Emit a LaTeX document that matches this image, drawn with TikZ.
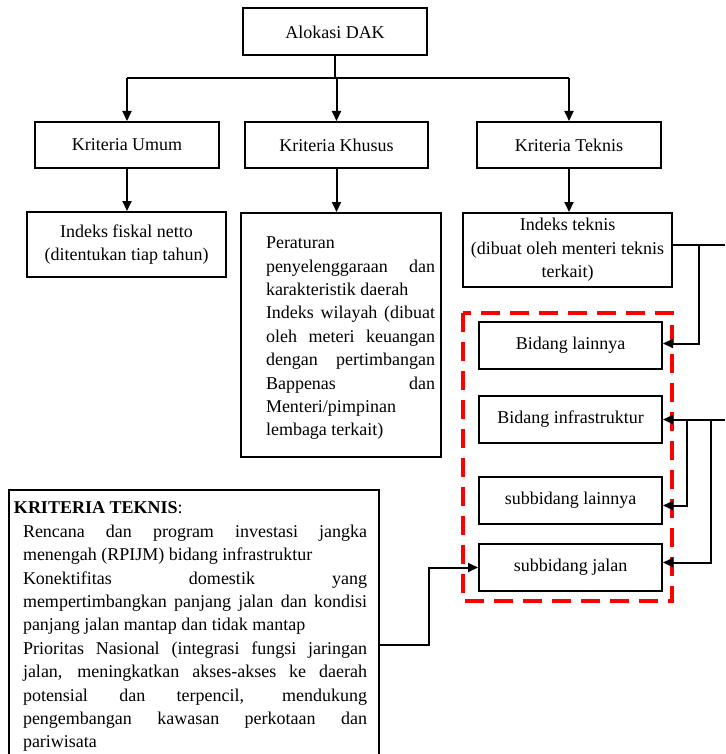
\documentclass[tikz,border=0pt]{standalone}
\usepackage{fontspec}
\setmainfont{Liberation Serif}
\usetikzlibrary{arrows.meta}
% a line stretched to a given width (justified line)
\newcommand\fullline[2]{\makebox[#1][s]{#2}}
\begin{document}
\begin{tikzpicture}[x=1pt,y=-1pt,
  box/.style={draw,line width=2pt,inner sep=0pt,
    font=\fontsize{18}{23.4}\selectfont},
  ln/.style={line width=2pt},
  arr/.style={line width=2pt,-{Triangle[length=10pt,width=9pt]}},
]
\useasboundingbox (0,0) rectangle (725,754);
\clip (0,0) rectangle (725,754);

% top level
\node[box,minimum width=184pt,minimum height=47pt] (dak) at (335,32) {Alokasi DAK};

% criteria
\node[box,minimum width=184pt,minimum height=46pt] (umum)   at (127,145)   {Kriteria Umum};
\node[box,minimum width=183pt,minimum height=46pt] (khusus) at (336.5,145) {Kriteria Khusus};
\node[box,minimum width=184pt,minimum height=46pt] (teknis) at (569,145)   {Kriteria Teknis};

% indices
\node[box,minimum width=199pt,minimum height=65pt,align=center] (fiskal) at (126.5,244.5)
  {Indeks fiskal netto\\(ditentukan tiap tahun)};

\node[box,anchor=north west] (atur) at (240,212)
  {\parbox[t][244pt][t]{200pt}{\vspace*{24pt}\hspace*{25pt}\parbox[t]{169pt}{%
    Peraturan\\
    \fullline{169pt}{penyelenggaraan dan}\\
    karakteristik daerah\\
    \fullline{169pt}{Indeks wilayah (dibuat}\\
    \fullline{169pt}{oleh meteri keuangan}\\
    \fullline{169pt}{dengan pertimbangan}\\
    \fullline{169pt}{Bappenas dan}\\
    Menteri/pimpinan\\
    lembaga terkait)}}};

\node[box,minimum width=209pt,minimum height=74pt,align=center] (it) at (567.5,250)
  {Indeks teknis\\(dibuat oleh menteri teknis\\terkait)};

% fields inside the dashed frame
\draw[red,line width=4pt,dash pattern=on 19pt off 10pt] (463,313) rectangle (672,601);
\node[box,minimum width=183pt,minimum height=47pt] (bl) at (570.5,345.5) {Bidang lainnya};
\node[box,minimum width=183pt,minimum height=47pt] (bi) at (570.5,419.5) {Bidang infrastruktur};
\node[box,minimum width=183pt,minimum height=47pt] (sl) at (570.5,500.5) {subbidang lainnya};
\node[box,minimum width=183pt,minimum height=47pt] (sj) at (570.5,567.5) {subbidang jalan};

% technical criteria list
\node[box,anchor=north west] (kt) at (8,489)
  {\parbox[t][300pt][t]{370pt}{\vspace*{12pt}\hspace*{5pt}\parbox[t]{361pt}{%
    \textbf{KRITERIA TEKNIS}:\\
    \hspace*{9pt}\fullline{344pt}{Rencana dan program investasi jangka}\\
    \hspace*{9pt}menengah (RPIJM) bidang infrastruktur\\
    \hspace*{9pt}\fullline{344pt}{Konektifitas domestik yang}\\
    \hspace*{9pt}\fullline{344pt}{mempertimbangkan panjang jalan dan kondisi}\\
    \hspace*{9pt}panjang jalan mantap dan tidak mantap\\
    \hspace*{9pt}\fullline{344pt}{Prioritas Nasional (integrasi fungsi jaringan}\\
    \hspace*{9pt}\fullline{344pt}{jalan, meningkatkan akses-akses ke daerah}\\
    \hspace*{9pt}\fullline{344pt}{potensial dan terpencil, mendukung}\\
    \hspace*{9pt}\fullline{344pt}{pengembangan kawasan perkotaan dan}\\
    \hspace*{9pt}pariwisata}}};

% helper coordinates
\coordinate (bus) at (0,78);
\coordinate (edge) at (725,0);
\coordinate (jA) at (699,0);
\coordinate (jB) at (687,0);
\coordinate (jC) at (711,0);

% top tree
\draw[ln] (dak.south) -- (dak.south |- bus);
\draw[ln] (umum.north |- bus) -- (teknis.north |- bus);
\draw[arr] (umum.north |- bus) -- (umum.north);
\draw[arr] (khusus.north |- bus) -- (khusus.north);
\draw[arr] (teknis.north |- bus) -- (teknis.north);

\draw[arr] (umum.south) -- (umum.south |- fiskal.north);
\draw[arr] (khusus.south) -- (khusus.south |- atur.north);
\draw[arr] (teknis.south) -- (teknis.south |- it.north);

% right side connectors
\draw[ln] ([yshift=5pt]it.east) -- ([yshift=5pt]it.east -| edge);
\draw[arr] ([yshift=5pt]it.east -| jA) |- ([yshift=2pt]bl.east);
\draw[arr] (bi.east -| edge) -- (bi.east);
\draw[arr] (bi.east -| jB) |- ([yshift=-5pt]sl.east);
\draw[arr] (bi.east -| jC) |- ([yshift=5pt]sj.east);

% list to road subfield
\draw[arr] ([yshift=-156pt]kt.north east) -- ++(49,0) |- (sj.west);
\end{tikzpicture}
\end{document}
